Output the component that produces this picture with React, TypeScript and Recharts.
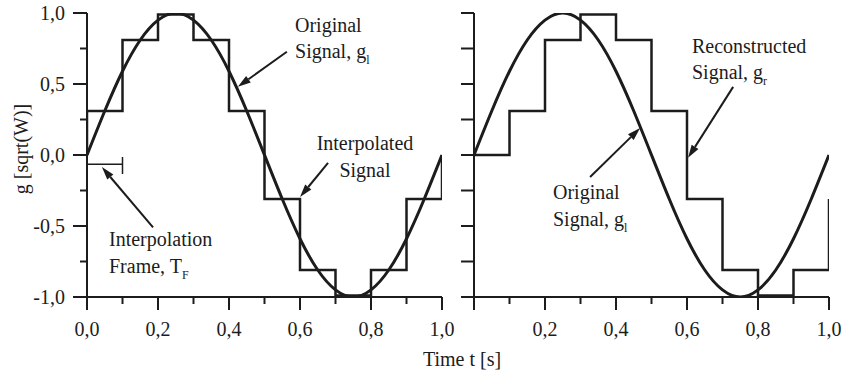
import { LineChart, Line, XAxis, YAxis, ReferenceLine, ReferenceDot } from "recharts";

const FONT = "Liberation Serif, Times New Roman, Times, DejaVu Serif, serif";
const INK = "#1c1c1c";

// frame boundaries (s) and the value held in each frame
const frameTimes = [0, 0.1, 0.2, 0.3, 0.4, 0.5, 0.6, 0.7, 0.8, 0.9, 1.0];
const interpolatedValues = [0.31, 0.81, 0.99, 0.81, 0.31, -0.31, -0.81, -0.99, -0.81, -0.31];
const reconstructedValues = [0, 0.31, 0.81, 0.99, 0.81, 0.31, -0.31, -0.81, -0.99, -0.81];

// original signal read every 0.05 s
const originalTimes = [
  0, 0.05, 0.1, 0.15, 0.2, 0.25, 0.3, 0.35, 0.4, 0.45, 0.5,
  0.55, 0.6, 0.65, 0.7, 0.75, 0.8, 0.85, 0.9, 0.95, 1.0,
];
const originalValues = [
  0, 0.31, 0.59, 0.81, 0.95, 1.0, 0.95, 0.81, 0.59, 0.31, 0,
  -0.31, -0.59, -0.81, -0.95, -1.0, -0.95, -0.81, -0.59, -0.31, 0,
];

const yTicks = [-1, -0.75, -0.5, -0.25, 0, 0.25, 0.5, 0.75, 1];
const xTicks = [0, 0.1, 0.2, 0.3, 0.4, 0.5, 0.6, 0.7, 0.8, 0.9, 1.0];

const original = originalTimes.map((t, i) => ({ t, g: originalValues[i] }));

const interpolated = [
  { t: 0, g: 0 },
  ...interpolatedValues.map((g, i) => ({ t: frameTimes[i], g })),
  { t: 1, g: interpolatedValues[interpolatedValues.length - 1] },
  { t: 1, g: 0 },
];

const reconstructed = [
  ...reconstructedValues.map((g, i) => ({ t: frameTimes[i], g })),
  { t: 1, g: reconstructedValues[reconstructedValues.length - 1] },
  { t: 1, g: interpolatedValues[interpolatedValues.length - 1] },
];

const fmt = (v: number) => v.toFixed(1).replace(".", ",");

const txt = { fontFamily: FONT, fontSize: 20 };

const LeftYTick = (p: any) => {
  const v = p.payload.value;
  const major = Math.abs(v * 2 - Math.round(v * 2)) < 1e-6;
  return (
    <g>
      <line x1={p.x - (major ? 14 : 7)} x2={p.x} y1={p.y} y2={p.y} stroke={INK} strokeWidth={2} />
      {major && (
        <text x={p.x - 22} y={p.y} dy="0.35em" textAnchor="end" style={txt} fill={INK}>
          {fmt(v)}
        </text>
      )}
    </g>
  );
};

const RightYTick = (p: any) => (
  <line x1={p.x - 13} x2={p.x} y1={p.y} y2={p.y} stroke={INK} strokeWidth={2} />
);

const makeXTick = (skipZero: boolean) => (p: any) => {
  const v = p.payload.value;
  const major = Math.round(v * 10) % 2 === 0;
  return (
    <g>
      <line x1={p.x} x2={p.x} y1={p.y} y2={p.y + (major ? 13 : 7)} stroke={INK} strokeWidth={2} />
      {major && !(skipZero && v === 0) && (
        <text x={p.x} y={p.y + 39} textAnchor="middle" style={txt} fill={INK}>
          {fmt(v)}
        </text>
      )}
    </g>
  );
};

const arrowShape = (p: any) => {
  const { x1, y1, x2, y2 } = p;
  if (![x1, y1, x2, y2].every((n) => typeof n === "number")) return <g />;
  const dx = x2 - x1;
  const dy = y2 - y1;
  const len = Math.hypot(dx, dy) || 1;
  const ux = dx / len;
  const uy = dy / len;
  const head = 13;
  const half = 4;
  const bx = x2 - ux * head;
  const by = y2 - uy * head;
  return (
    <g>
      <line x1={x1} y1={y1} x2={bx} y2={by} stroke={INK} strokeWidth={2} />
      <polygon
        points={`${x2},${y2} ${bx - uy * half},${by + ux * half} ${bx + uy * half},${by - ux * half}`}
        fill={INK}
      />
    </g>
  );
};

type NoteLine = { text: string; sub?: string };

const noteShape = (lines: NoteLine[], anchor: "start" | "middle" = "start") => (p: any) => (
  <text x={p.cx} y={p.cy} textAnchor={anchor} style={txt} fill={INK}>
    {lines.map((ln, i) => (
      <tspan key={i} x={p.cx} dy={i === 0 ? 0 : 26.5}>
        {ln.text}
        {ln.sub && (
          <tspan style={{ fontSize: 12 }} dy={6}>
            {ln.sub}
          </tspan>
        )}
      </tspan>
    ))}
  </text>
);

const axisLine = { stroke: INK, strokeWidth: 2 };

const App = () => {
  return (
    <div style={{ position: "absolute", left: 0, top: 0, width: 843, height: 379, background: "#fff" }}>
      <div style={{ position: "absolute", left: 0, top: 0 }}>
        <LineChart width={470} height={379} margin={{ top: 13, right: 28, left: 0, bottom: 0 }}>
          <XAxis
            dataKey="t"
            type="number"
            domain={[0, 1]}
            ticks={xTicks}
            interval={0}
            tickSize={0}
            tickMargin={0}
            tickLine={false}
            tick={makeXTick(false)}
            axisLine={axisLine}
            height={82}
            allowDataOverflow
          />
          <YAxis
            type="number"
            domain={[-1, 1]}
            ticks={yTicks}
            interval={0}
            tickSize={0}
            tickMargin={0}
            tickLine={false}
            tick={LeftYTick}
            axisLine={axisLine}
            width={87}
            allowDataOverflow
            label={{
              content: (lp: any) => {
                const vb = lp.viewBox || { x: 0, y: 13, width: 87, height: 284 };
                const cx = vb.x + 21;
                const cy = vb.y + vb.height / 2 - 6;
                return (
                  <text
                    x={cx}
                    y={cy}
                    transform={`rotate(-90 ${cx} ${cy})`}
                    textAnchor="middle"
                    dy="0.35em"
                    style={txt}
                    fill={INK}
                  >
                    g [sqrt(W)]
                  </text>
                );
              },
            }}
          />
          <Line
            data={interpolated}
            dataKey="g"
            type="stepAfter"
            stroke={INK}
            strokeWidth={2.5}
            dot={false}
            isAnimationActive={false}
          />
          <Line
            data={original}
            dataKey="g"
            type="natural"
            stroke={INK}
            strokeWidth={3}
            dot={false}
            isAnimationActive={false}
          />
          <ReferenceLine segment={[{ x: 0, y: -0.065 }, { x: 0.1, y: -0.065 }]} stroke={INK} strokeWidth={1.5} />
          <ReferenceLine segment={[{ x: 0.1, y: -0.014 }, { x: 0.1, y: -0.134 }]} stroke={INK} strokeWidth={1.5} />
          <ReferenceLine segment={[{ x: 0.563, y: 0.727 }, { x: 0.425, y: 0.48 }]} shape={arrowShape} />
          <ReferenceLine segment={[{ x: 0.679, y: -0.056 }, { x: 0.6, y: -0.296 }]} shape={arrowShape} />
          <ReferenceLine segment={[{ x: 0.186, y: -0.51 }, { x: 0.042, y: -0.085 }]} shape={arrowShape} />
          <ReferenceDot
            x={0.586}
            y={0.868}
            r={0}
            shape={noteShape([{ text: "Original" }, { text: "Signal, g", sub: "l" }])}
          />
          <ReferenceDot
            x={0.783}
            y={0.035}
            r={0}
            shape={noteShape([{ text: "Interpolated" }, { text: "Signal" }], "middle")}
          />
          <ReferenceDot
            x={0.062}
            y={-0.642}
            r={0}
            shape={noteShape([{ text: "Interpolation" }, { text: "Frame, T", sub: "F" }])}
          />
        </LineChart>
      </div>
      <div style={{ position: "absolute", left: 440, top: 0 }}>
        <LineChart width={403} height={379} margin={{ top: 13, right: 14, left: 0, bottom: 0 }}>
          <XAxis
            dataKey="t"
            type="number"
            domain={[0, 1]}
            ticks={xTicks}
            interval={0}
            tickSize={0}
            tickMargin={0}
            tickLine={false}
            tick={makeXTick(true)}
            axisLine={axisLine}
            height={82}
            allowDataOverflow
          />
          <YAxis
            type="number"
            domain={[-1, 1]}
            ticks={yTicks}
            interval={0}
            tickSize={0}
            tickMargin={0}
            tickLine={false}
            tick={RightYTick}
            axisLine={axisLine}
            width={34}
            allowDataOverflow
          />
          <Line
            data={reconstructed}
            dataKey="g"
            type="stepAfter"
            stroke={INK}
            strokeWidth={2.5}
            dot={false}
            isAnimationActive={false}
          />
          <Line
            data={original}
            dataKey="g"
            type="natural"
            stroke={INK}
            strokeWidth={3}
            dot={false}
            isAnimationActive={false}
          />
          <ReferenceLine segment={[{ x: 0.73, y: 0.48 }, { x: 0.603, y: -0.02 }]} shape={arrowShape} />
          <ReferenceLine segment={[{ x: 0.327, y: -0.155 }, { x: 0.468, y: 0.19 }]} shape={arrowShape} />
          <ReferenceDot
            x={0.614}
            y={0.72}
            r={0}
            shape={noteShape([{ text: "Reconstructed" }, { text: "Signal, g", sub: "r" }])}
          />
          <ReferenceDot
            x={0.2225}
            y={-0.31}
            r={0}
            shape={noteShape([{ text: "Original" }, { text: "Signal, g", sub: "l" }])}
          />
        </LineChart>
      </div>
      <svg width={843} height={379} style={{ position: "absolute", left: 0, top: 0, pointerEvents: "none" }}>
        <text x={462} y={366} textAnchor="middle" style={txt} fill={INK}>
          Time t [s]
        </text>
      </svg>
    </div>
  );
};

export default App;
